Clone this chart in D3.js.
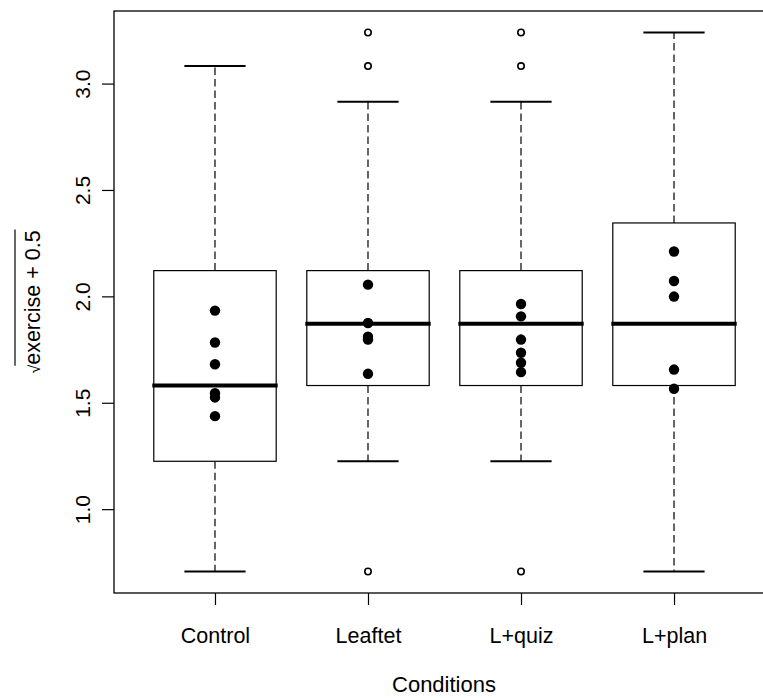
<!DOCTYPE html>
<html>
<head>
<meta charset="utf-8">
<script src="https://cdn.jsdelivr.net/npm/d3@7"></script>
<style>
  body { margin: 0; background: #fff; }
  svg { display: block; font-family: "Liberation Sans", Arial, sans-serif; }
</style>
</head>
<body>
<svg id="vis" width="763" height="698"></svg>
<script>
// groups and box statistics (sqrt(exercise + 0.5))
const categories = ["Control", "Leaftet", "L+quiz", "L+plan"];
const lowWhisker = [0.707, 1.225, 1.225, 0.707];
const q1 = [1.225, 1.581, 1.581, 1.581];
const median = [1.581, 1.871, 1.871, 1.871];
const q3 = [2.121, 2.121, 2.121, 2.345];
const highWhisker = [3.082, 2.915, 2.915, 3.240];
const outliers = [[], [3.240, 3.082, 0.707], [3.240, 3.082, 0.707], []];
// filled dots drawn over each box
const points = [
  [1.933, 1.783, 1.681, 1.545, 1.525, 1.437],
  [2.055, 1.875, 1.81, 1.797, 1.636],
  [1.964, 1.906, 1.797, 1.735, 1.688, 1.644],
  [2.211, 2.072, 1.999, 1.656, 1.566]
];
const yTicks = [1.0, 1.5, 2.0, 2.5, 3.0];

const svg = d3.select("#vis");
const pLeft = 114, pRight = 775, pTop = 11, pBottom = 593;

const x = d3.scaleLinear().domain([0.34, 4.66]).range([pLeft, pRight]);
const y = d3.scaleLinear().domain([0.606, 3.341]).range([pBottom, pTop]);

const boxW = x(1.8) - x(1);   // 0.8 units
const capW = x(1.4) - x(1);   // 0.4 units

const groups = categories.map((c, i) => ({
  i: i + 1, name: c, lo: lowWhisker[i], q1: q1[i], med: median[i],
  q3: q3[i], hi: highWhisker[i], out: outliers[i], pts: points[i]
}));

const g = svg.selectAll("g.box")
  .data(groups)
  .join("g")
  .attr("class", "box");

// whiskers
g.append("line")
  .attr("x1", d => x(d.i)).attr("x2", d => x(d.i))
  .attr("y1", d => y(d.q3)).attr("y2", d => y(d.hi))
  .attr("stroke", "#000").attr("stroke-width", 1.2)
  .attr("stroke-dasharray", "7.5,4");
g.append("line")
  .attr("x1", d => x(d.i)).attr("x2", d => x(d.i))
  .attr("y1", d => y(d.q1)).attr("y2", d => y(d.lo))
  .attr("stroke", "#000").attr("stroke-width", 1.2)
  .attr("stroke-dasharray", "7.5,4");

// caps
["lo", "hi"].forEach(k => {
  g.append("line")
    .attr("x1", d => x(d.i) - capW / 2).attr("x2", d => x(d.i) + capW / 2)
    .attr("y1", d => y(d[k])).attr("y2", d => y(d[k]))
    .attr("stroke", "#000").attr("stroke-width", 2);
});

// box
g.append("rect")
  .attr("x", d => x(d.i) - boxW / 2)
  .attr("width", boxW)
  .attr("y", d => y(d.q3))
  .attr("height", d => y(d.q1) - y(d.q3))
  .attr("fill", "#fff")
  .attr("stroke", "#000")
  .attr("stroke-width", 1.2);

// median
g.append("line")
  .attr("x1", d => x(d.i) - boxW / 2 - 1.5).attr("x2", d => x(d.i) + boxW / 2 + 1.5)
  .attr("y1", d => y(d.med)).attr("y2", d => y(d.med))
  .attr("stroke", "#000").attr("stroke-width", 4);

// outliers
g.selectAll("circle.out")
  .data(d => d.out.map(v => ({ i: d.i, v })))
  .join("circle")
  .attr("class", "out")
  .attr("cx", d => x(d.i)).attr("cy", d => y(d.v))
  .attr("r", 3.2)
  .attr("fill", "none").attr("stroke", "#000").attr("stroke-width", 1.6);

// filled dots
g.selectAll("circle.pt")
  .data(d => d.pts.map(v => ({ i: d.i, v })))
  .join("circle")
  .attr("class", "pt")
  .attr("cx", d => x(d.i)).attr("cy", d => y(d.v))
  .attr("r", 5.2)
  .attr("fill", "#000");

// plot frame
svg.append("rect")
  .attr("x", pLeft).attr("y", pTop)
  .attr("width", pRight - pLeft).attr("height", pBottom - pTop)
  .attr("fill", "none").attr("stroke", "#000").attr("stroke-width", 1.3);

// y axis
const yAxis = svg.append("g")
  .attr("transform", `translate(${pLeft},0)`)
  .call(d3.axisLeft(y).tickValues(yTicks).tickFormat(d3.format(".1f")).tickSize(12));
yAxis.select(".domain").remove();
yAxis.selectAll("line").attr("stroke", "#000").attr("stroke-width", 1.2);
yAxis.selectAll("text")
  .attr("x", null).attr("dy", null)
  .attr("text-anchor", "middle")
  .attr("transform", "translate(-24,0) rotate(-90)")
  .attr("font-size", 21)
  .attr("font-family", "Liberation Sans, Arial, sans-serif")
  .attr("fill", "#000");

// x axis
const xAxis = svg.append("g")
  .attr("transform", `translate(0,${pBottom})`)
  .call(d3.axisBottom(x).tickValues([1, 2, 3, 4]).tickFormat(d => categories[d - 1]).tickSize(12));
xAxis.select(".domain").remove();
xAxis.selectAll("line").attr("stroke", "#000").attr("stroke-width", 1.2);
xAxis.selectAll("text")
  .attr("y", 50).attr("dy", null)
  .attr("font-size", 21.5)
  .attr("font-family", "Liberation Sans, Arial, sans-serif")
  .attr("fill", "#000");

// axis titles
svg.append("text")
  .attr("x", 444).attr("y", 692)
  .attr("text-anchor", "middle")
  .attr("font-size", 22)
  .text("Conditions");

const ylab = svg.append("g")
  .attr("transform", `translate(40,${(pTop + pBottom) / 2}) rotate(-90)`);
const ytext = ylab.append("text")
  .attr("text-anchor", "middle")
  .attr("font-size", 21.5);
const rad = ytext.append("tspan").attr("font-size", 16).text("√");
ytext.append("tspan").text("exercise + 0.5");
const total = ytext.node().getComputedTextLength();
const radW = rad.node().getComputedTextLength();
ylab.append("line")
  .attr("x1", -total / 2 + radW - 1).attr("x2", total / 2 + 1)
  .attr("y1", -25).attr("y2", -25)
  .attr("stroke", "#000").attr("stroke-width", 1.2);
</script>
</body>
</html>
